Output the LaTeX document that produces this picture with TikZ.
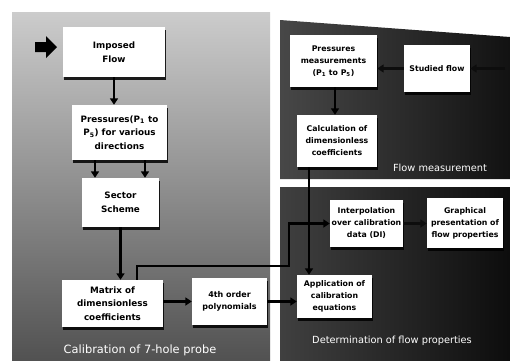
\documentclass[tikz,border=0pt]{standalone}
\usepackage{fontspec}
\setmainfont{DejaVu Sans}
\usetikzlibrary{arrows.meta,shadows,calc}
\tikzset{
  box/.style={fill=white, draw=none, align=center, inner sep=1pt,
    font=\bfseries\fontsize{8.8}{13.5}\selectfont, text=black,
    drop shadow={shadow xshift=1.2pt, shadow yshift=-2.5pt, fill=black, opacity=0.85}},
  rbox/.style={box, font=\bfseries\fontsize{7.8}{12}\selectfont},
  arr/.style={line width=2.6pt, draw=black, -{Triangle[length=6.5pt,width=8pt]}},
  darr/.style={arr, draw=black!95},
  plabel/.style={text=white, font=\fontsize{9.8}{11}\selectfont, inner sep=0pt}
}
\begin{document}
\begin{tikzpicture}[x=1pt,y=-1pt]
\useasboundingbox (0,0) rectangle (510,360);
% panels
\shade[top color=black!20, bottom color=black!68] (12,12) rectangle (270,360);
\shade[left color=black!72, right color=black!93] (280,20) -- (510,37) -- (510,179) -- (280,179) -- cycle;
\shade[left color=black!75, right color=black!95] (280,187) rectangle (510,360);
% block arrow
\fill[black] (35,42) -- (46,42) -- (46,36) -- (57,47) -- (46,58) -- (46,52) -- (35,52) -- cycle;
% boxes left
\node[box, minimum width=102pt, minimum height=50pt] (imp) at (114,52) {Imposed\\Flow};
\node[box, minimum width=95pt, minimum height=55pt] (pres) at (119.5,132.5) {Pressures(P\textsubscript{1} to\\P\textsubscript{5}) for various\\directions};
\node[box, minimum width=77pt, minimum height=49pt] (sect) at (120.5,202.5) {Sector\\Scheme};
\node[box, minimum width=101pt, minimum height=47pt] (mat) at (112.5,303.5) {Matrix of\\dimensionless\\coefficients};
\node[box, minimum width=75pt, minimum height=47pt, font=\bfseries\fontsize{8}{12}\selectfont] (poly) at (229.5,301.5) {4th order\\polynomials};
% boxes right
\node[rbox, minimum width=87pt, minimum height=52pt] (pm) at (333.5,61) {Pressures\\measurements\\(P\textsubscript{1} to P\textsubscript{5})};
\node[rbox, minimum width=66pt, minimum height=47pt] (stud) at (437,68.5) {Studied flow};
\node[rbox, minimum width=80pt, minimum height=52pt] (calc) at (337,141) {Calculation of\\dimensionless\\coefficients};
\node[rbox, minimum width=73pt, minimum height=47pt] (interp) at (366.5,223.5) {Interpolation\\over calibration\\data (DI)};
\node[rbox, minimum width=76pt, minimum height=50pt] (graph) at (465,223) {Graphical\\presentation of\\flow properties};
\node[rbox, minimum width=75pt, minimum height=43pt] (app) at (334.5,296.5) {Application of\\calibration\\equations};
% labels
\node[plabel, font=\fontsize{11.4}{12}\selectfont] (l1) at (140,350) {Calibration of 7-hole probe};
\node[plabel] (l2) at (440,168) {Flow measurement};
\node[plabel] (l3) at (392,341) {Determination of flow properties};
% connectors
\coordinate (j1) at (289,266);
\coordinate (rin) at (505,68.5);
\draw[arr] (imp.south) -- (imp.south |- pres.north);
\draw[arr] ([xshift=-24.5pt]pres.south) -- ([xshift=-24.5pt]pres.south |- sect.north);
\draw[arr] ([xshift=25.5pt]pres.south) -- ([xshift=25.5pt]pres.south |- sect.north);
\draw[arr] (sect.south) -- (sect.south |- mat.north);
\draw[arr] (mat.east |- poly.west) -- (poly.west);
\draw[arr] ([xshift=24.5pt]mat.north) |- (j1) |- (interp.west);
\draw[arr] (poly.east) -- (poly.east -| app.west);
\draw[arr] ([xshift=-28pt]calc.south) -- ([xshift=-28pt]calc.south |- app.north);
\draw[arr] ([xshift=1.5pt]pm.south) -- ([xshift=1.5pt]pm.south |- calc.north);
\draw[darr] (stud.west) -- (stud.west -| pm.east);
\draw[darr] (rin) -- (stud.east);
\draw[darr] (interp.east) -- (interp.east -| graph.west);
\end{tikzpicture}
\end{document}
